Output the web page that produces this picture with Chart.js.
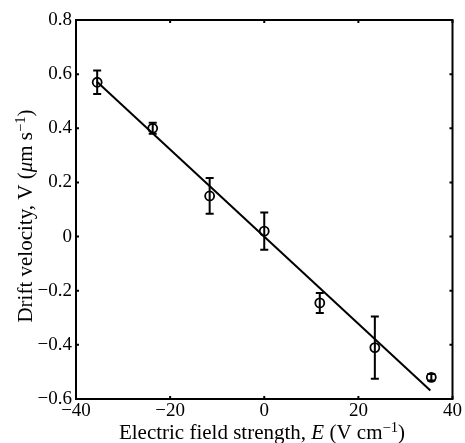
<!DOCTYPE html>
<html>
<head>
<meta charset="utf-8">
<script src="https://cdn.jsdelivr.net/npm/chart.js@4.4.1/dist/chart.umd.min.js"></script>
<style>
  html, body { margin: 0; padding: 0; background: #fff; }
  #wrap { width: 465px; height: 443px; }
</style>
</head>
<body>
<div id="wrap"><canvas id="driftChart" width="465" height="443"></canvas></div>
<script>
// measured points (E in V/cm, V in um/s)
const fieldE = [-35.5, -23.7, -11.6, 0, 11.8, 23.5, 35.5];
const velocity = [0.57, 0.40, 0.15, 0.02, -0.245, -0.41, -0.52];
const velocityErr = [0.043, 0.02, 0.066, 0.069, 0.037, 0.115, 0.012];

// linear fit end points
const fitE = [-35.6, 35.3];
const fitV = [0.573, -0.569];

const xTicks = [-40, -20, 0, 20, 40];
const yTicks = [-0.6, -0.4, -0.2, 0, 0.2, 0.4, 0.6, 0.8];

const FONT = "'Liberation Serif', 'DejaVu Serif', serif";
const TICK_SIZE = 19;
const TITLE_SIZE = 21;

function fmt(v) {
  const s = String(Math.round(v * 10) / 10);
  return v < 0 ? "\u2212" + s.slice(1) : s;
}

// draw a line of text made of styled pieces
function drawPieces(ctx, pieces, cx, cy) {
  let total = 0;
  const font = (p) => (p.it ? "italic " : "") + (p.sup ? TITLE_SIZE * 0.7 : TITLE_SIZE) + "px " + FONT;
  pieces.forEach((p) => {
    ctx.font = font(p);
    p.w = ctx.measureText(p.t).width;
    total += p.w;
  });
  let x = cx - total / 2;
  ctx.textBaseline = "alphabetic";
  ctx.textAlign = "left";
  pieces.forEach((p) => {
    ctx.font = font(p);
    ctx.fillText(p.t, x, cy + (p.sup ? -7 : 0));
    x += p.w;
  });
}

const framePlugin = {
  id: "frame",
  afterDatasetsDraw(chart) {
    const ctx = chart.ctx;
    const xs = chart.scales.x, ys = chart.scales.y;
    const a = chart.chartArea;
    ctx.save();
    ctx.strokeStyle = "#000";
    ctx.fillStyle = "#000";

    // error bars
    ctx.lineWidth = 2;
    fieldE.forEach((e, i) => {
      const px = xs.getPixelForValue(e);
      const top = ys.getPixelForValue(velocity[i] + velocityErr[i]);
      const bot = ys.getPixelForValue(velocity[i] - velocityErr[i]);
      ctx.beginPath();
      ctx.moveTo(px, top); ctx.lineTo(px, bot);
      ctx.moveTo(px - 4, top); ctx.lineTo(px + 4, top);
      ctx.moveTo(px - 4, bot); ctx.lineTo(px + 4, bot);
      ctx.stroke();
    });

    // box
    ctx.strokeRect(a.left, a.top, a.right - a.left, a.bottom - a.top);

    // inward ticks on all four sides
    ctx.beginPath();
    xTicks.forEach((t) => {
      const px = xs.getPixelForValue(t);
      ctx.moveTo(px, a.bottom); ctx.lineTo(px, a.bottom - 3);
      ctx.moveTo(px, a.top); ctx.lineTo(px, a.top + 3);
    });
    yTicks.forEach((t) => {
      const py = ys.getPixelForValue(t);
      ctx.moveTo(a.left, py); ctx.lineTo(a.left + 3, py);
      ctx.moveTo(a.right, py); ctx.lineTo(a.right - 3, py);
    });
    ctx.stroke();

    // axis titles
    drawPieces(ctx, [
      { t: "Electric field strength, " },
      { t: "E", it: true },
      { t: " (V cm" },
      { t: "\u22121", sup: true },
      { t: ")" }
    ], 262, 439);

    ctx.translate(32, 216);
    ctx.rotate(-Math.PI / 2);
    drawPieces(ctx, [
      { t: "Drift velocity, V (" },
      { t: "\u03bc", it: true },
      { t: "m s" },
      { t: "\u22121", sup: true },
      { t: ")" }
    ], 0, 0);
    ctx.restore();
  }
};

new Chart(document.getElementById("driftChart"), {
  type: "scatter",
  data: {
    datasets: [
      {
        label: "fit",
        type: "line",
        data: fitE.map((e, i) => ({ x: e, y: fitV[i] })),
        borderColor: "#000",
        borderWidth: 2,
        pointRadius: 0,
        fill: false
      },
      {
        label: "measured",
        data: fieldE.map((e, i) => ({ x: e, y: velocity[i] })),
        pointStyle: "circle",
        pointRadius: 4.5,
        pointBorderWidth: 1.8,
        pointBorderColor: "#000",
        pointBackgroundColor: "rgba(0,0,0,0)"
      }
    ]
  },
  options: {
    responsive: false,
    animation: false,
    events: [],
    layout: { padding: { top: 20, right: 11, left: 0, bottom: 0 } },
    plugins: { legend: { display: false }, tooltip: { enabled: false } },
    scales: {
      x: {
        type: "linear",
        min: -40, max: 40,
        afterBuildTicks: (s) => { s.ticks = xTicks.map((v) => ({ value: v })); },
        afterFit: (s) => { s.height = 44; },
        grid: { display: false, drawTicks: false },
        border: { display: false },
        ticks: {
          color: "#000",
          padding: 3,
          font: { family: FONT, size: TICK_SIZE, lineHeight: 1 },
          callback: (v) => fmt(v)
        }
      },
      y: {
        type: "linear",
        min: -0.6, max: 0.8,
        afterBuildTicks: (s) => { s.ticks = yTicks.map((v) => ({ value: v })); },
        afterFit: (s) => { s.width = 76; },
        grid: { display: false, drawTicks: false },
        border: { display: false },
        ticks: {
          color: "#000",
          padding: 4,
          font: { family: FONT, size: TICK_SIZE },
          callback: (v) => fmt(v)
        }
      }
    }
  },
  plugins: [framePlugin]
});
</script>
</body>
</html>
